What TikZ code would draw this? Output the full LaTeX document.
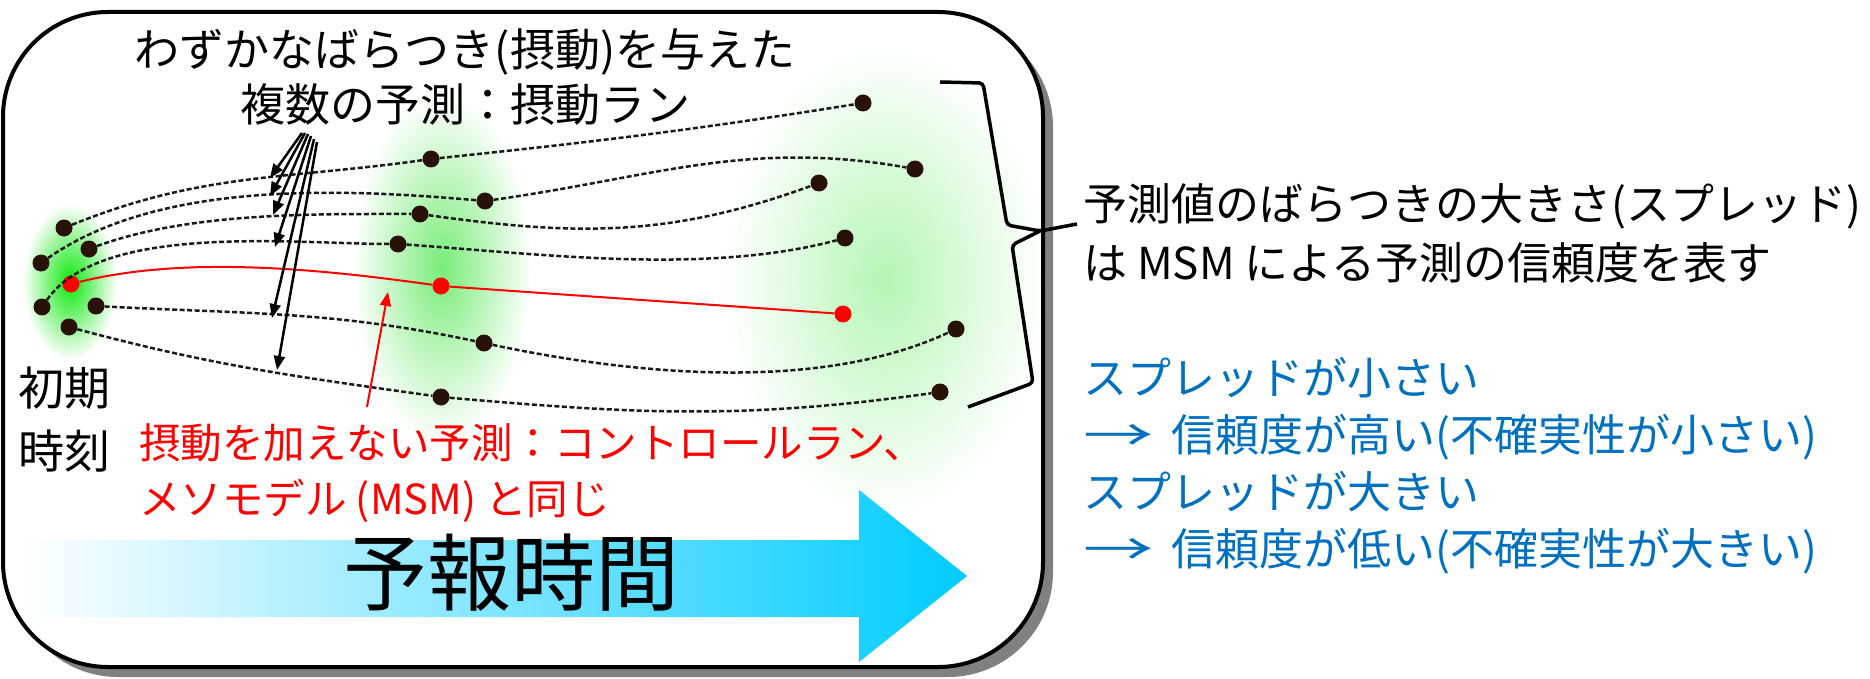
\documentclass[tikz,border=0pt]{standalone}
\usepackage{fontspec}
\setmainfont{Noto Sans CJK JP}
\usetikzlibrary{positioning,arrows.meta}

\definecolor{dotbrown}{RGB}{40,18,8}
\definecolor{msmblue}{RGB}{0,112,192}
\definecolor{timecyan}{RGB}{0,204,255}
\definecolor{core}{RGB}{10,232,10}
\definecolor{midcore}{RGB}{120,236,120}
\definecolor{farcore}{RGB}{180,246,180}

\newcommand{\widearrow}{\scalebox{1.6}[1]{→}\hspace{0.4em}}

\tikzset{
  dot/.style={circle, fill=dotbrown, inner sep=0pt, minimum size=17pt},
  ctrldot/.style={dot, fill=red},
  run/.style={line width=2.5pt, black!90, dash pattern=on 5pt off 2.5pt},
  ctrl/.style={line width=2pt, red},
  pointer/.style={-{Triangle[length=14pt,width=11pt]}, line width=2.5pt},
  txt/.style={inner sep=0pt, anchor=base west},
  toptxt/.style={txt, font=\fontsize{45}{54}\selectfont},
  redtxt/.style={txt, red, font=\fontsize{41.5}{50}\selectfont},
  sidetxt/.style={txt, font=\fontsize{44}{53}\selectfont},
  bluetxt/.style={sidetxt, msmblue},
}

\begin{document}
\begin{tikzpicture}[x=1pt, y=-1pt]
  \useasboundingbox (0,0) rectangle (1870,679);
  % frame
  \fill[black!50, rounded corners=105pt] (13,22) rectangle (1053,677);
  \fill[white, rounded corners=105pt] (3,12) rectangle (1043,667);

  % spread of the runs
  \shade[inner color=core, outer color=white] (70,282) ellipse [x radius=47pt, y radius=78pt];
  \shade[inner color=midcore, outer color=white] (442,268) ellipse [x radius=90pt, y radius=175pt];
  \shade[inner color=farcore, outer color=white] (885,280) ellipse [x radius=160pt, y radius=235pt];

  % forecast time
  \shade[left color=white, right color=timecyan] (20,540) -- (859,540) -- (859,490) -- (967,576)
    -- (859,662) -- (859,617) -- (20,617) -- cycle;
  \node[txt, anchor=base, font=\fontsize{84}{84}\selectfont] (fcst) at (511,604) {予報時間};

  % members: initial, middle, final
  \foreach \n/\ix/\iy/\mx/\my/\fx/\fy in {1/64/228/431/159/863/103, 2/41/263/485/201/915/169,
      3/89/249/420/214/819/183, 4/42/307/398/244/845/238, 5/96/306/484/343/956/329,
      6/69/327/441/397/940/392}{
    \node[dot] (i\n) at (\ix,\iy) {};
    \node[dot] (m\n) at (\mx,\my) {};
    \node[dot] (f\n) at (\fx,\fy) {};
  }
  \node[ctrldot] (ic) at (71,284) {};
  \node[ctrldot] (mc) at (441,286) {};
  \node[ctrldot] (fc) at (843,314) {};

  \draw[run] (i1) to[out=22,in=188] (m1) to[out=6,in=189] (f1);
  \draw[run] (i2) to[out=35,in=175,looseness=0.8] (m2) to[out=8,in=170] (f2);
  \draw[run] (i3) to[out=20,in=180,looseness=0.8] (m3) to[out=-8,in=200] (f3);
  \draw[run] (i4) to[out=55,in=180,looseness=0.7] (m4) to[out=-4,in=195,looseness=0.8] (f4);
  \draw[run] (i5) to[out=-3,in=168] (m5) to[out=-12,in=205,looseness=0.8] (f5);
  \draw[run] (i6) to[out=-15,in=172] (m6) to[out=-5,in=188] (f6);
  \draw[ctrl] (ic) to[out=14,in=172,looseness=0.8] (mc) -- (fc);

  % labels
  \node[toptxt, anchor=base] (lab1) at (465,67) {わずかなばらつき(摂動)を与えた};
  \node[toptxt, anchor=base] (lab2) at (465,122) {複数の予測：摂動ラン};
  \node[txt, font=\fontsize{46}{55}\selectfont] (init1) at (18,405) {初期};
  \node[txt, font=\fontsize{46}{55}\selectfont] (init2) at (18,468) {時刻};
  \node[redtxt] (red1) at (139,458) {摂動を加えない予測：コントロールラン、};
  \node[redtxt] (red2) at (139,514) {メソモデル (MSM) と同じ};

  \coordinate (tip1) at (270,178);
  \coordinate (tip2) at (270,196);
  \coordinate (tip3) at (273,215);
  \coordinate (tip4) at (275,247);
  \coordinate (tip5) at (272,318);
  \coordinate (tip6) at (277,370);
  \foreach \dx/\dy/\t in {-163/11/1, -160/11/2, -157/12/3, -154/14/4, -151/17/5, -148/20/6}
    \draw[pointer] ([xshift=\dx pt, yshift=-\dy pt]lab2.base) -- (tip\t);

  \coordinate (redtip) at (388,292);
  \draw[pointer, red, line width=2pt] ([xshift=228pt, yshift=51pt]red1.base west) -- (redtip);

  \draw[line width=4pt, rounded corners=105pt] (3,12) rectangle (1043,667);

  % spread brace
  \coordinate (brtip) at (1077,224);
  \draw[line width=3.5pt, rounded corners=4pt] (940,82) -- (983,83) -- (1007,225) -- (1040,231) -- (brtip)
    (1040,231) -- (1012,245) -- (1033,383) -- (968,407);

  \node[sidetxt] (spr1) at (1083,220) {予測値のばらつきの大きさ(スプレッド)};
  \node[sidetxt, below=59pt of spr1.base west, anchor=base west] (spr2) {は MSM による予測の信頼度を表す};
  \node[bluetxt] (sm1) at (1083,394) {スプレッドが小さい};
  \node[bluetxt, below=57pt of sm1.base west, anchor=base west] (sm2) {\widearrow 信頼度が高い(不確実性が小さい)};
  \node[bluetxt, below=57pt of sm2.base west, anchor=base west] (sm3) {スプレッドが大きい};
  \node[bluetxt, below=57pt of sm3.base west, anchor=base west] (sm4) {\widearrow 信頼度が低い(不確実性が大きい)};
\end{tikzpicture}
\end{document}
